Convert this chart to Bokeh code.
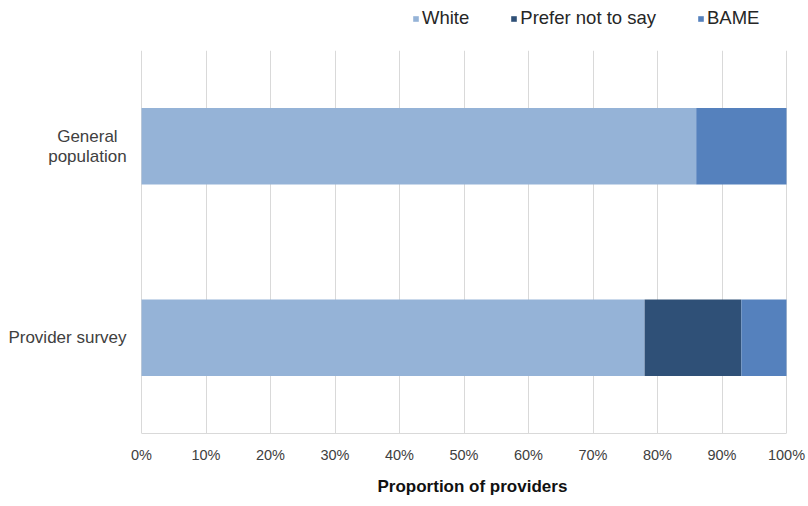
import textwrap
from bokeh.plotting import figure
from bokeh.layouts import column
from bokeh.models import (ColumnDataSource, FactorRange, Range1d, NumeralTickFormatter,
                          FixedTicker, Legend, Title)
from bokeh.core.properties import value
from bokeh.embed import file_html
from bokeh.resources import INLINE

categories = ["Provider survey", "General population"]
white = [0.78, 0.86]
prefer_not = [0.15, 0.00]
bame = [0.07, 0.14]
series = ["White", "Prefer not to say", "BAME"]
colors = ["#95B3D7", "#2F5077", "#5581BD"]
ticks = [i / 10 for i in range(11)]
x_title = "Proportion of providers"

FONT = "Liberation Sans"
CAT_FS = 17
W = 808

src = ColumnDataSource(dict(cat=categories, White=white, **{"Prefer not to say": prefer_not}, BAME=bame))

# category labels, wrapped like the original (built from the category names)
lab = dict(cat=[], line=[], dx=[], dy=[], align=[])
for c in categories:
    lines = textwrap.wrap(c, 15)
    n = len(lines)
    est_w = max(len(l) for l in lines) * 0.46 * CAT_FS
    for i, ln in enumerate(lines):
        lab["cat"].append(c)
        lab["line"].append(ln)
        lab["dy"].append((i - (n - 1) / 2) * 20)
        if n > 1:
            lab["align"].append("center")
            lab["dx"].append(-(15 + est_w / 2))
        else:
            lab["align"].append("right")
            lab["dx"].append(-15)
lab_src = ColumnDataSource(lab)

# legend strip
lg = figure(width=W, height=50, output_backend="svg", toolbar_location=None,
            y_range=FactorRange(*categories), x_range=Range1d(0, 1),
            x_axis_location=None, y_axis_location=None, min_border=0)
lg.outline_line_color = None
lg.grid.grid_line_color = None
lrs = lg.hbar_stack(series, y="cat", height=0.4, color=colors, source=src, line_width=0)
for r in lrs:
    r.visible = False
legend = Legend(items=[(s, [r]) for s, r in zip(series, lrs)], orientation="horizontal",
                location=(412, 21), border_line_color=None, background_fill_alpha=0,
                inactive_fill_alpha=0,
                glyph_width=7, glyph_height=7, label_standoff=3, spacing=41, padding=0, margin=0,
                label_text_font=FONT, label_text_font_size="18.5px", label_text_color="#262626")
lg.add_layout(legend, "center")

# main chart (frame starts at page left so the category labels fit inside it)
p = figure(width=W, height=455, output_backend="svg", toolbar_location=None,
           y_range=FactorRange(*categories), x_range=Range1d(-141 / 645, 1 + (W - 786) / 645),
           y_axis_location=None,
           min_border_left=0, min_border_right=0, min_border_top=0, min_border_bottom=72)
p.outline_line_color = None

p.hbar_stack(series, y="cat", height=0.4, color=colors, source=src, line_width=0)

p.text(x=0, y="cat", text="line", x_offset="dx", y_offset="dy", text_align="align",
       text_baseline="middle", text_font=value(FONT), text_font_size=f"{CAT_FS}px",
       text_color="#404040", source=lab_src)

p.xaxis.ticker = FixedTicker(ticks=ticks)
p.xaxis.formatter = NumeralTickFormatter(format="0%")
p.xaxis.bounds = (0, 1)
p.xaxis.major_label_text_font = FONT
p.xaxis.major_label_text_color = "#404040"
p.xaxis.major_label_text_font_size = "14.5px"
p.xaxis.major_tick_line_color = None
p.xaxis.minor_tick_line_color = None
p.xaxis.axis_line_color = "#D9D9D9"
p.xaxis.major_label_standoff = 7
p.xgrid.grid_line_color = "#D9D9D9"
p.ygrid.grid_line_color = None

p.add_layout(Title(text=x_title, align="left", offset=377, standoff=18,
                   text_font=FONT, text_font_style="bold", text_font_size="17px",
                   text_color="#111111"), "below")

layout = column(lg, p, spacing=0)
open("out.html", "w").write(file_html(layout, INLINE))
